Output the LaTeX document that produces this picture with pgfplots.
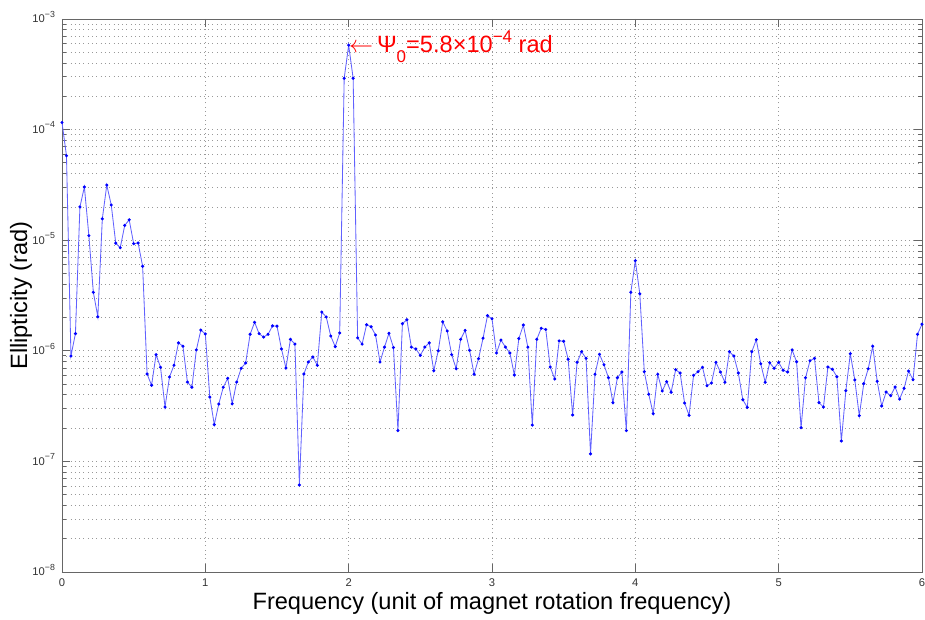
\documentclass[border=0pt]{standalone}
\usepackage{fontspec}
\setmainfont{Liberation Sans}
\usepackage{pgfplots}
\usepackage{pgfplotstable}
\pgfplotsset{compat=1.18}

% ellipticity spectrum, points every 1/32 of the rotation frequency
\pgfplotstableread[row sep=\\]{
n v\\
0 1.16e-4\\ 1 5.8e-5\\ 2 8.97e-7\\ 3 1.43e-6\\ 4 2.0e-5\\ 5 3.03e-5\\ 6 1.10e-5\\ 7 3.38e-6\\
8 2.03e-6\\ 9 1.56e-5\\ 10 3.15e-5\\ 11 2.08e-5\\ 12 9.4e-6\\ 13 8.55e-6\\ 14 1.36e-5\\ 15 1.53e-5\\
16 9.3e-6\\ 17 9.44e-6\\ 18 5.81e-6\\ 19 6.17e-7\\ 20 4.88e-7\\ 21 9.22e-7\\ 22 7.1e-7\\ 23 3.1e-7\\
24 5.8e-7\\ 25 7.4e-7\\ 26 1.18e-6\\ 27 1.10e-6\\ 28 5.22e-7\\ 29 4.68e-7\\ 30 1.02e-6\\ 31 1.54e-6\\
32 1.42e-6\\ 33 3.82e-7\\ 34 2.15e-7\\ 35 3.30e-7\\ 36 4.68e-7\\ 37 5.64e-7\\ 38 3.32e-7\\ 39 5.22e-7\\
40 6.95e-7\\ 41 7.76e-7\\ 42 1.41e-6\\ 43 1.81e-6\\ 44 1.43e-6\\ 45 1.33e-6\\ 46 1.41e-6\\ 47 1.68e-6\\
48 1.67e-6\\ 49 1.04e-6\\ 50 6.98e-7\\ 51 1.27e-6\\ 52 1.15e-6\\ 53 6.12e-8\\ 54 6.17e-7\\ 55 7.92e-7\\
56 8.79e-7\\ 57 7.4e-7\\ 58 2.24e-6\\ 59 2.02e-6\\ 60 1.36e-6\\ 61 1.09e-6\\ 62 1.45e-6\\ 63 2.91e-4\\
64 5.8e-4\\ 65 2.91e-4\\ 66 1.31e-6\\ 67 1.15e-6\\ 68 1.72e-6\\ 69 1.65e-6\\ 70 1.39e-6\\ 71 7.92e-7\\
72 1.08e-6\\ 73 1.44e-6\\ 74 1.07e-6\\ 75 1.90e-7\\ 76 1.76e-6\\ 77 1.91e-6\\ 78 1.08e-6\\ 79 1.04e-6\\
80 9.1e-7\\ 81 1.08e-6\\ 82 1.18e-6\\ 83 6.61e-7\\ 84 1.00e-6\\ 85 1.83e-6\\ 86 1.51e-6\\ 87 9.22e-7\\
88 6.89e-7\\ 89 1.27e-6\\ 90 1.53e-6\\ 91 1.01e-6\\ 92 6.14e-7\\ 93 8.49e-7\\ 94 1.30e-6\\ 95 2.08e-6\\
96 1.95e-6\\ 97 9.55e-7\\ 98 1.25e-6\\ 99 1.08e-6\\ 100 9.55e-7\\ 101 6.04e-7\\ 102 1.29e-6\\ 103 1.71e-6\\
104 1.08e-6\\ 105 2.13e-7\\ 106 1.27e-6\\ 107 1.60e-6\\ 108 1.56e-6\\ 109 7.14e-7\\ 110 5.56e-7\\ 111 1.23e-6\\
112 1.22e-6\\ 113 8.38e-7\\ 114 2.63e-7\\ 115 7.87e-7\\ 116 9.82e-7\\ 117 8.55e-7\\ 118 1.17e-7\\ 119 6.14e-7\\
120 9.3e-7\\ 121 7.48e-7\\ 122 5.71e-7\\ 123 3.40e-7\\ 124 5.71e-7\\ 125 6.43e-7\\ 126 1.90e-7\\ 127 3.38e-6\\
128 6.53e-6\\ 129 3.28e-6\\ 130 6.47e-7\\ 131 4.05e-7\\ 132 2.70e-7\\ 133 6.14e-7\\ 134 4.33e-7\\ 135 5.26e-7\\
136 4.22e-7\\ 137 6.75e-7\\ 138 6.30e-7\\ 139 3.37e-7\\ 140 2.61e-7\\ 141 6.0e-7\\ 142 6.47e-7\\ 143 7.1e-7\\
144 4.83e-7\\ 145 5.12e-7\\ 146 7.87e-7\\ 147 6.43e-7\\ 148 5.19e-7\\ 149 9.82e-7\\ 150 8.97e-7\\ 151 6.30e-7\\
152 3.61e-7\\ 153 3.08e-7\\ 154 9.82e-7\\ 155 1.26e-6\\ 156 7.64e-7\\ 157 5.19e-7\\ 158 7.8e-7\\ 159 6.95e-7\\
160 7.87e-7\\ 161 6.67e-7\\ 162 6.43e-7\\ 163 1.02e-6\\ 164 7.96e-7\\ 165 2.02e-7\\ 166 5.71e-7\\ 167 8.13e-7\\
168 8.55e-7\\ 169 3.40e-7\\ 170 3.1e-7\\ 171 7.14e-7\\ 172 6.81e-7\\ 173 5.83e-7\\ 174 1.53e-7\\ 175 4.36e-7\\
176 9.42e-7\\ 177 5.45e-7\\ 178 2.59e-7\\ 179 5.05e-7\\ 180 6.89e-7\\ 181 1.10e-6\\ 182 5.30e-7\\ 183 3.17e-7\\
184 4.24e-7\\ 185 3.93e-7\\ 186 4.71e-7\\ 187 3.66e-7\\ 188 4.58e-7\\ 189 6.56e-7\\ 190 5.48e-7\\ 191 1.41e-6\\
192 1.74e-6\\
}\ellip

\newcommand{\decade}[1]{10\smash{\raisebox{0.5em}{\fontsize{4.4}{5}\selectfont −#1}}}

\begin{document}
\begin{tikzpicture}
\begin{axis}[
    at={(0,0)}, anchor=south west,
    scale only axis,
    width=430pt, height=276.5pt,
    xmin=0, xmax=6,
    ymode=log, ymin=1e-8, ymax=1e-3,
    xtick={0,...,6},
    ytick={1e-8,1e-7,1e-6,1e-5,1e-4,1e-3},
    yticklabels={\decade{8},\decade{7},\decade{6},\decade{5},\decade{4},\decade{3}},
    minor ytick={2e-8,3e-8,4e-8,5e-8,6e-8,7e-8,8e-8,9e-8,
                 2e-7,3e-7,4e-7,5e-7,6e-7,7e-7,8e-7,9e-7,
                 2e-6,3e-6,4e-6,5e-6,6e-6,7e-6,8e-6,9e-6,
                 2e-5,3e-5,4e-5,5e-5,6e-5,7e-5,8e-5,9e-5,
                 2e-4,3e-4,4e-4,5e-4,6e-4,7e-4,8e-4,9e-4},
    tick align=inside,
    major tick length=4pt, minor tick length=2pt,
    xmajorgrids, ymajorgrids, yminorgrids,
    grid style={black!40, line width=0.35pt, dash pattern=on 0.45pt off 1.7pt},
    minor grid style={black!40, line width=0.35pt, dash pattern=on 0.45pt off 1.7pt},
    axis line style={black!60},
    every tick/.style={black!60},
    tick label style={black!80, font=\fontsize{5.6}{6}\selectfont},
    /pgf/number format/assume math mode=true,
    xlabel={Frequency (unit of magnet rotation frequency)},
    ylabel={Ellipticity (rad)},
    every axis x label/.style={at={(axis description cs:0.5,-0.056)}, anchor=center,
        font=\fontsize{11.8}{14}\selectfont},
    every axis y label/.style={at={(axis description cs:-0.0477,0.5)}, rotate=90, anchor=center,
        font=\fontsize{11.8}{14}\selectfont},
]
\addplot[color={rgb,1:red,0.38;green,0.38;blue,1}, line width=0.42pt,
    mark=*, mark size=0.55pt, mark options={fill=blue, draw=blue}]
    table[x expr=\thisrow{n}/32, y=v] {\ellip};
\node[red, anchor=base west, inner sep=0pt, yshift=-3.9pt,
      font=\fontsize{11.8}{14}\selectfont] at (axis cs:2,5.8e-4)
    {$\leftarrow$\,Ψ\raisebox{-0.4em}{\fontsize{8.5}{9}\selectfont 0}=5.8×10\raisebox{0.45em}{\fontsize{8.5}{9}\selectfont −4} rad};
\end{axis}
\pgfresetboundingbox
\path (-31pt,-24pt) rectangle (431.5pt,286pt);
\end{tikzpicture}
\end{document}
